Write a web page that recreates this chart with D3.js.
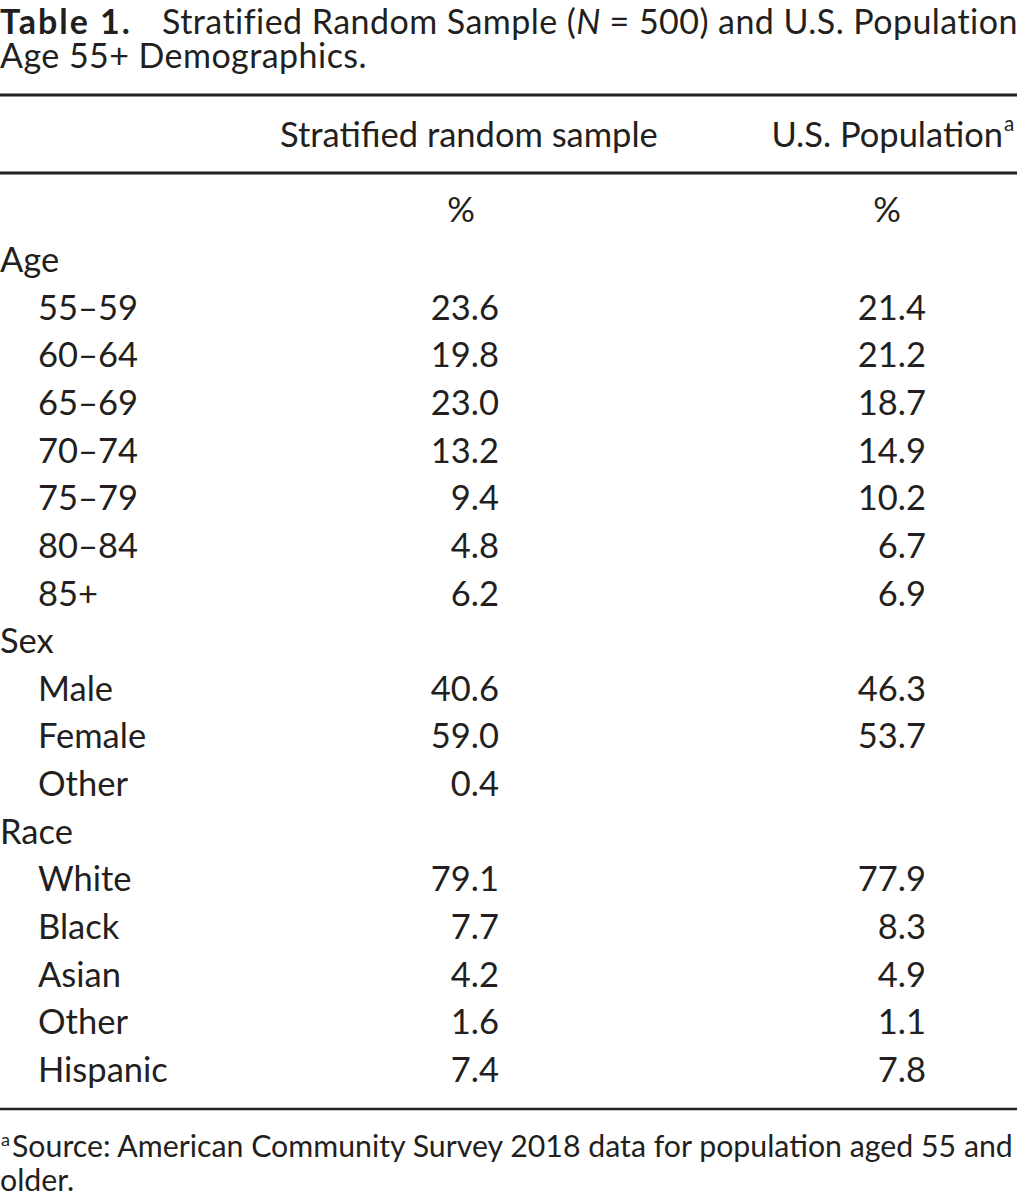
<!DOCTYPE html>
<html>
<head>
<meta charset="utf-8">
<script src="https://cdn.jsdelivr.net/npm/d3@7"></script>
<style>
  body { margin: 0; background: #fff; }
  svg text { font-family: "Lato", "Open Sans", sans-serif; fill: #231f20; }
</style>
</head>
<body>
<div id="chart"></div>
<script>
// table contents
var groups = ["Age", "Sex", "Race"];
var ageLabels = ["55–59", "60–64", "65–69", "70–74", "75–79", "80–84", "85+"];
var ageSample = ["23.6", "19.8", "23.0", "13.2", "9.4", "4.8", "6.2"];
var agePop = ["21.4", "21.2", "18.7", "14.9", "10.2", "6.7", "6.9"];
var sexLabels = ["Male", "Female", "Other"];
var sexSample = ["40.6", "59.0", "0.4"];
var sexPop = ["46.3", "53.7", ""];
var raceLabels = ["White", "Black", "Asian", "Other", "Hispanic"];
var raceSample = ["79.1", "7.7", "4.2", "1.6", "7.4"];
var racePop = ["77.9", "8.3", "4.9", "1.1", "7.8"];
var columnHeads = ["Stratified random sample", "U.S. Population"];
var unitLabels = ["%", "%"];

var W = 1017, H = 1199;
var FS = 34.5,      // body
    TFS = 34,       // title
    NFS = 30.3;     // footnote

// flatten into rows: group headings followed by their items
var rows = [];
[[ageLabels, ageSample, agePop], [sexLabels, sexSample, sexPop], [raceLabels, raceSample, racePop]]
  .forEach(function(g, gi) {
      rows.push({label: groups[gi], heading: true});
      g[0].forEach(function(l, i) {
          rows.push({label: l, sample: g[1][i], pop: g[2][i]});
      });
  });

var svg = d3.select("#chart").append("svg")
  .attr("width", W).attr("height", H);

var y = d3.scalePoint()
  .domain(d3.range(rows.length))
  .range([272, 1082]);

// right edges of the two number columns, centres of the % marks
var numRight = d3.scaleOrdinal().domain(["sample", "pop"]).range([499, 926]);
var unitX = d3.scaleOrdinal().domain([0, 1]).range([461, 887]);

// title
var title = svg.append("text").attr("x", 0).attr("y", 34).attr("font-size", TFS);
title.append("tspan").attr("font-weight", "bold").attr("letter-spacing", 2).text("Table 1.");
title.append("tspan").attr("x", 162).attr("letter-spacing", 0.45).text("Stratified Random Sample (");
title.append("tspan").attr("font-style", "italic").text("N");
title.append("tspan").attr("letter-spacing", 0.45).text(" = 500) and U.S. Population");
svg.append("text").attr("x", 0).attr("y", 68).attr("font-size", TFS)
  .attr("letter-spacing", 0.45)
  .text("Age 55+ Demographics.");

// rules
[[95, 3], [173, 3], [1109, 2.5]].forEach(function(r) {
    svg.append("line")
      .attr("x1", 0).attr("x2", W)
      .attr("y1", r[0]).attr("y2", r[0])
      .attr("stroke", "#231f20").attr("stroke-width", r[1]);
});

// column heads
svg.append("text").attr("x", 280).attr("y", 147).attr("font-size", FS)
  .text(columnHeads[0]);
svg.append("text").attr("x", 1003).attr("y", 147).attr("font-size", FS)
  .attr("text-anchor", "end")
  .text(columnHeads[1]);
svg.append("text").attr("x", 1004).attr("y", 131).attr("font-size", FS * 0.6)
  .text("a");

svg.selectAll(".unit")
  .data(unitLabels)
  .enter().append("text")
  .attr("class", "unit")
  .attr("x", function(d, i) { return unitX(i); })
  .attr("y", 222)
  .attr("font-size", FS)
  .attr("text-anchor", "middle")
  .text(function(d) { return d; });

// body rows
var rowSel = svg.selectAll(".row")
  .data(rows)
  .enter().append("g")
  .attr("class", "row")
  .attr("transform", function(d, i) { return "translate(0," + y(i) + ")"; });

rowSel.append("text")
  .attr("x", function(d) { return d.heading ? 0 : 38; })
  .attr("font-size", FS)
  .text(function(d) { return d.label; });

["sample", "pop"].forEach(function(k) {
    rowSel.filter(function(d) { return !d.heading && d[k]; })
      .append("text")
      .attr("x", numRight(k))
      .attr("font-size", FS)
      .attr("text-anchor", "end")
      .text(function(d) { return d[k]; });
});

// footnote
svg.append("text").attr("x", 1).attr("y", 1146).attr("font-size", NFS * 0.6)
  .text("a");
svg.append("text").attr("x", 12).attr("y", 1157).attr("font-size", NFS)
  .text("Source: American Community Survey 2018 data for population aged 55 and");
svg.append("text").attr("x", 0).attr("y", 1191).attr("font-size", NFS)
  .text("older.");
</script>
</body>
</html>
